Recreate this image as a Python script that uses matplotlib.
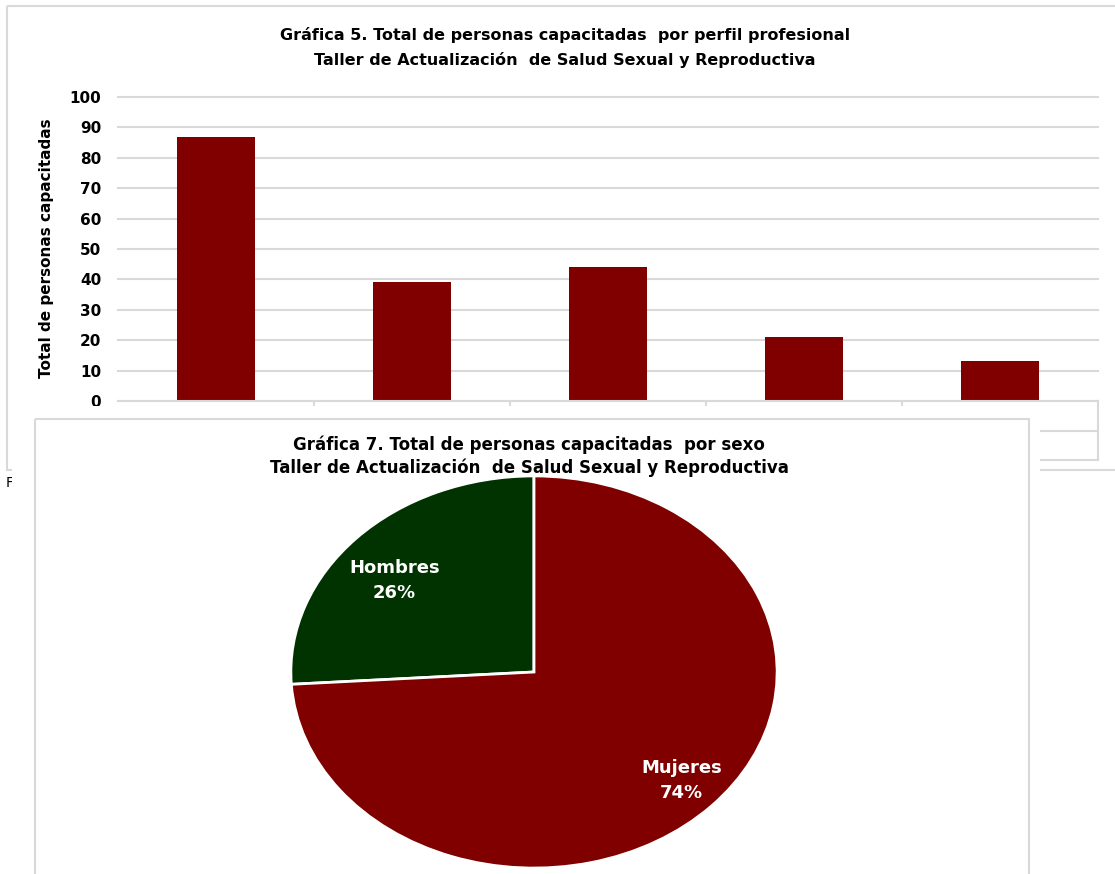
import numpy as np
import matplotlib.pyplot as plt
from matplotlib.patches import Rectangle

# Gráfica 5: total por perfil profesional (las etiquetas quedan tapadas por la gráfica 7)
perfiles = ["Perfil 1", "Perfil 2", "Perfil 3", "Perfil 4", "Perfil 5"]
total_personas = [87, 39, 44, 21, 13]
y_ticks = [0, 10, 20, 30, 40, 50, 60, 70, 80, 90, 100]

# Gráfica 7: por sexo
sexos = ["Hombres", "Mujeres"]
porcentaje_sexo = [26, 74]

W, H = 1115, 874
GRIS = "#d9d9d9"
GUINDA = "#800000"
VERDE = "#003300"


def caja(x0, y0, x1, y1):
    # pixeles (origen arriba a la izquierda) -> fracciones de figura
    return [x0 / W, 1 - y1 / H, (x1 - x0) / W, (y1 - y0) / H]


fig = plt.figure(figsize=(W / 100, H / 100), dpi=100)

# fondo: marco de la gráfica 5, títulos y tabla de categorías
fondo = fig.add_axes([0, 0, 1, 1], zorder=0)
fondo.set_xlim(0, W)
fondo.set_ylim(H, 0)
fondo.axis("off")
fondo.add_patch(Rectangle((7, 6), W + 10, 464, fill=False, edgecolor=GRIS, lw=1.5))
fondo.text(565, 35, "Gráfica 5. Total de personas capacitadas  por perfil profesional",
           ha="center", va="center", fontsize=11.5, fontweight="bold")
fondo.text(565, 60, "Taller de Actualización  de Salud Sexual y Reproductiva",
           ha="center", va="center", fontsize=11.5, fontweight="bold")
fondo.text(47, 248, "Total de personas capacitadas", rotation=90,
           ha="center", va="center", fontsize=11, fontweight="bold")
fondo.text(6, 483, "Fuente", ha="left", va="center", fontsize=10)
fondo.plot([118, 1098], [431, 431], color=GRIS, lw=1.5)
fondo.plot([118, 1098], [460, 460], color=GRIS, lw=1.5)
fondo.plot([1098, 1098], [401, 460], color=GRIS, lw=1.5)

# barras
ax = fig.add_axes(caja(118, 97, 1098, 401), zorder=1)
x = np.arange(len(perfiles))
ax.bar(x, total_personas, width=0.4, color=GUINDA, zorder=2)
ax.set_xlim(-0.5, len(perfiles) - 0.5)
ax.set_ylim(0, 100)
ax.set_yticks(y_ticks)
ax.set_yticklabels([str(v) for v in y_ticks], fontsize=11, fontweight="bold")
ax.set_xticks(x[:-1] + 0.5)
ax.set_xticklabels([])
ax.tick_params(axis="y", length=0, pad=12)
ax.tick_params(axis="x", length=60, color=GRIS, width=1.5)
ax.grid(axis="y", color=GRIS, lw=1.5, zorder=0)
for linea in ax.get_ygridlines():
    linea.set_clip_on(False)
ax.set_axisbelow(True)
for lado in ["left", "top", "right"]:
    ax.spines[lado].set_visible(False)
ax.spines["bottom"].set_color(GRIS)
ax.spines["bottom"].set_linewidth(1.5)

# panel blanco de la gráfica 7 encima
panel = fig.add_axes(caja(12, 406, 1040, 874), zorder=2)
panel.set_xlim(12, 1040)
panel.set_ylim(874, 406)
panel.set_facecolor("white")
panel.set_xticks([])
panel.set_yticks([])
for s in panel.spines.values():
    s.set_visible(False)
panel.add_patch(Rectangle((35, 419), 994, 500, fill=False, edgecolor=GRIS, lw=1.5))
panel.text(529, 445, "Gráfica 7. Total de personas capacitadas  por sexo",
           ha="center", va="center", fontsize=12, fontweight="bold")
panel.text(529, 468, "Taller de Actualización  de Salud Sexual y Reproductiva",
           ha="center", va="center", fontsize=12, fontweight="bold")

# pastel (achatado como en la imagen original)
pa = fig.add_axes(caja(286, 472, 782, 872), zorder=3)
etiquetas = [f"{s}\n{p}%" for s, p in zip(sexos, porcentaje_sexo)]
wedges, textos = pa.pie(porcentaje_sexo, colors=[VERDE, GUINDA], startangle=90,
                        counterclock=True, labels=etiquetas, labeldistance=0.75,
                        wedgeprops=dict(edgecolor="white", linewidth=2),
                        textprops=dict(color="white", fontsize=13, fontweight="bold"))
distancias = [0.74, 0.82]
giros = [4, 1]
for w, t, d, g in zip(wedges, textos, distancias, giros):
    ang = np.deg2rad((w.theta1 + w.theta2) / 2 + g)
    t.set_position((d * np.cos(ang), d * np.sin(ang)))
    t.set_ha("center")
    t.set_va("center")
    t.set_multialignment("center")
    t.set_linespacing(1.5)
pa.set_aspect("auto")
pa.set_xlim(-1.02, 1.02)
pa.set_ylim(-1.02, 1.02)

fig.savefig("out.png", dpi=100)
